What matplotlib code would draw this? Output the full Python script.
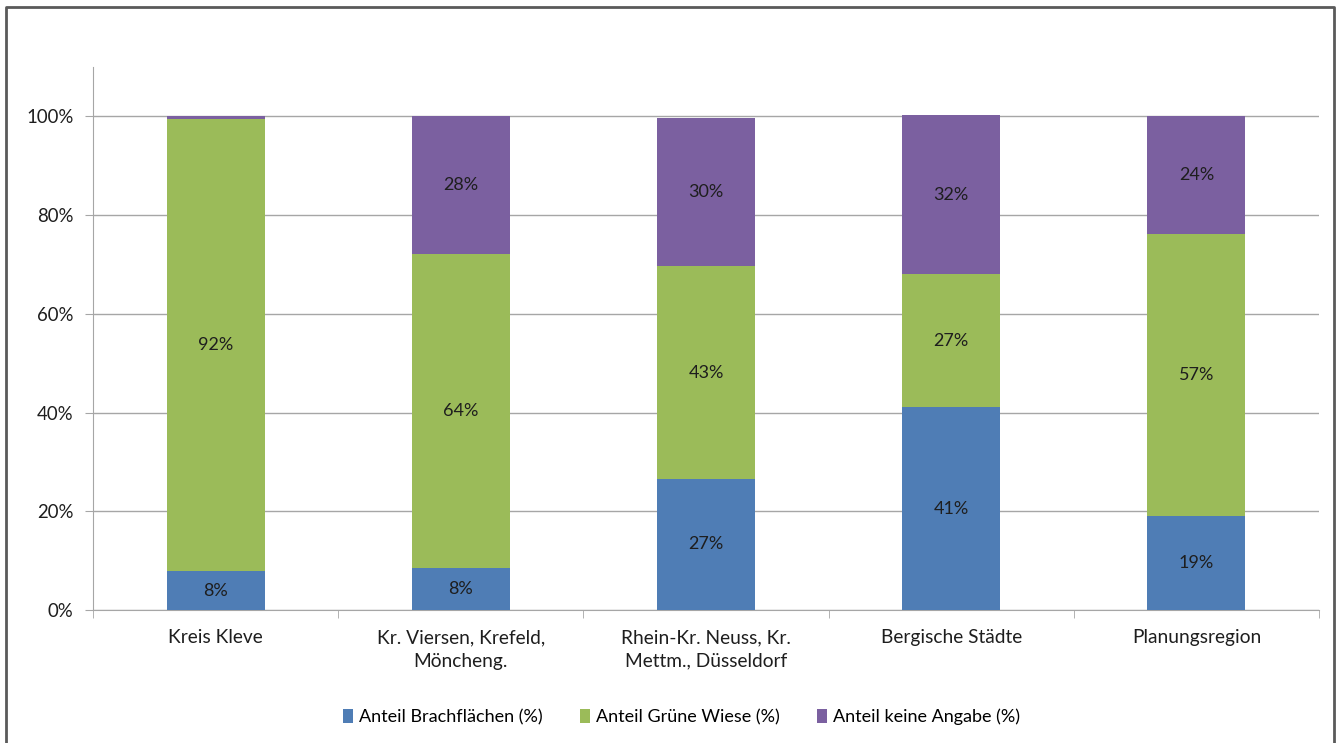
import matplotlib.pyplot as plt
from matplotlib.lines import Line2D
from matplotlib.ticker import FuncFormatter, FixedLocator
import numpy as np

plt.rcParams['font.family'] = ['Lato', 'DejaVu Sans']

regions = ["Kreis Kleve", "Kr. Viersen, Krefeld,\nMöncheng.",
           "Rhein-Kr. Neuss, Kr.\nMettm., Düsseldorf", "Bergische Städte",
           "Planungsregion"]
brach = [7.9, 8.5, 26.6, 41.1, 19.0]
gruen = [91.6, 63.6, 43.0, 26.9, 57.1]
keine = [0.5, 27.9, 30.0, 32.2, 23.9]
series_names = ["Anteil Brachflächen (%)", "Anteil Grüne Wiese (%)",
                "Anteil keine Angabe (%)"]
colors = ["#4F7DB5", "#9BBB59", "#7B60A0"]

fig = plt.figure(figsize=(13.43, 7.43), dpi=100)
ax = fig.add_axes([93 / 1343, 133 / 743, 1226 / 1343, 543 / 743])

# outer frame (open at the bottom, like the cropped screenshot)
fig.add_artist(Line2D([6 / 1343, 6 / 1343, 1334 / 1343, 1334 / 1343],
                      [0, 1 - 7 / 743, 1 - 7 / 743, 0],
                      transform=fig.transFigure, color="#5a5a5a", lw=2))

x = np.arange(len(regions))
bottom = np.zeros(len(regions))
for vals, name, c in zip([brach, gruen, keine], series_names, colors):
    vals = np.array(vals)
    ax.bar(x, vals, 0.4, bottom=bottom, color=c, label=name, zorder=3)
    for xi, b, v in zip(x, bottom, vals):
        if v >= 2:
            ax.text(xi, b + v / 2, f"{v:.0f}%", ha="center", va="center",
                    fontsize=13, color="#1e1e1e", zorder=4)
    bottom += vals

ax.set_xlim(-0.5, len(regions) - 0.5)
ax.set_ylim(0, 110)
ax.set_yticks(np.arange(0, 101, 20))
ax.yaxis.set_major_formatter(FuncFormatter(lambda v, p: f"{v:.0f}%"))
ax.grid(axis="y", color="#a6a6a6", lw=1, zorder=0)

ax.set_xticks(x)
ax.set_xticklabels(regions, fontsize=13.8, color="#1e1e1e", linespacing=1.45)
ax.tick_params(axis="x", length=0, pad=14)
ax.xaxis.set_minor_locator(FixedLocator(np.arange(-0.5, len(regions), 1)))
ax.tick_params(axis="x", which="minor", length=6, color="#a6a6a6")
ax.tick_params(axis="y", length=6, color="#a6a6a6", labelsize=13.4,
               labelcolor="#1e1e1e", pad=8)

for s in ["top", "right"]:
    ax.spines[s].set_visible(False)
ax.spines["left"].set_color("#a6a6a6")
ax.spines["bottom"].set_color("#a6a6a6")

ax.legend(loc="center", bbox_to_anchor=(0.48, -0.197), ncol=3, frameon=False,
          fontsize=13, handlelength=0.55, handleheight=0.75, handletextpad=0.3,
          columnspacing=2.1)

fig.savefig("out.png", dpi=100)
